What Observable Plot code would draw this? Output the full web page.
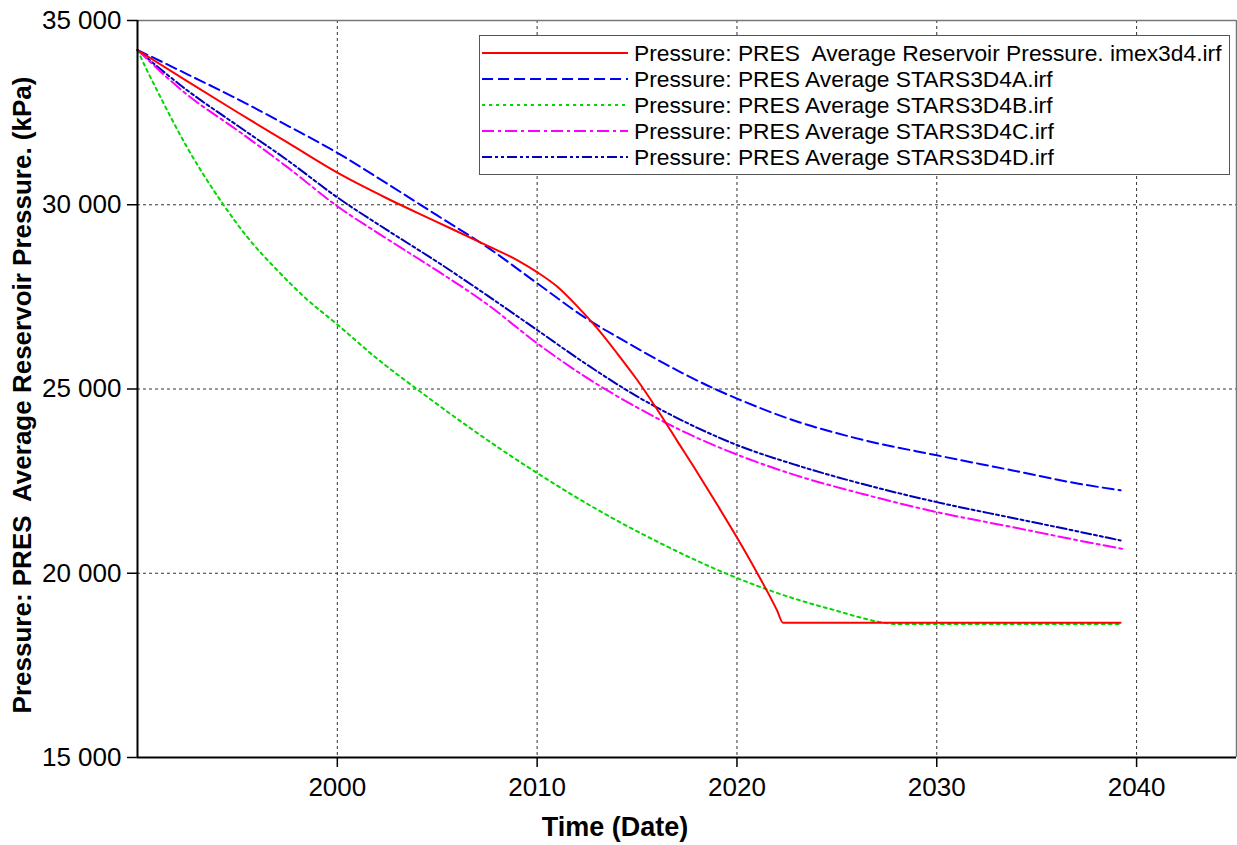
<!DOCTYPE html>
<html><head><meta charset="utf-8">
<script src="https://cdn.jsdelivr.net/npm/d3@7"></script>
<script src="https://cdn.jsdelivr.net/npm/@observablehq/plot@0.6"></script>
<style>
html,body{margin:0;padding:0;background:#fff;}
#wrap{position:relative;width:1237px;height:845px;font-family:"Liberation Sans",Arial,sans-serif;}
#legend{position:absolute;left:479px;top:35px;width:751px;height:140px;border:1.5px solid #555;background:#fff;box-sizing:border-box;}
.row{position:absolute;left:2px;height:26px;display:flex;align-items:center;font-size:22.8px;color:#000;white-space:pre;}
.row svg{margin-right:6px;}
</style></head><body><div id="wrap"></div>
<script>
// ---- data ----
const xTicks = [2000, 2010, 2020, 2030, 2040];
const yTicks = [15000, 20000, 25000, 30000, 35000];
const xDomain = [1990, 2045];
const yDomain = [15000, 35000];

const seriesNames = [
  "Pressure: PRES  Average Reservoir Pressure. imex3d4.irf",
  "Pressure: PRES Average STARS3D4A.irf",
  "Pressure: PRES Average STARS3D4B.irf",
  "Pressure: PRES Average STARS3D4C.irf",
  "Pressure: PRES Average STARS3D4D.irf"
];
const seriesColors = ["#ff0000", "#0000ff", "#00d800", "#ff00ff", "#0000b8"];
const seriesDash = [null, "11,5", "3,4", "12,4,3,4", "10,3,3,3,3,3"];

const imexYears  = [1990, 1992.5, 1995, 1997.5, 2000, 2002.5, 2005, 2007.5, 2009, 2010, 2011, 2012, 2013, 2014, 2015, 2016, 2017, 2018, 2019, 2020, 2021, 2022, 2022.3, 2039.2];
const imexValues = [34200, 33350, 32510, 31690, 30870, 30170, 29530, 28890, 28500, 28170, 27780, 27250, 26650, 25970, 25250, 24450, 23600, 22750, 21870, 20970, 20020, 19000, 18660, 18660];

const aYears  = [1990, 1992.5, 1995, 1997.5, 2000, 2002.5, 2005, 2007.5, 2010, 2012.5, 2014.6, 2017.1, 2018.9, 2020, 2023, 2026.3, 2030, 2033.8, 2037.1, 2039.2];
const aValues = [34200, 33540, 32870, 32150, 31410, 30570, 29710, 28850, 27870, 26900, 26230, 25480, 25000, 24740, 24120, 23620, 23200, 22790, 22430, 22250];

const bYears  = [1990, 1990.5, 1991, 1991.7, 1992.5, 1993.3, 1994.3, 1995.5, 1997, 1998.3, 2000, 2002, 2004, 2006.7, 2010, 2013, 2016.3, 2019.6, 2021.3, 2024.6, 2028.2, 2039.2];
const bValues = [34200, 33620, 33080, 32340, 31540, 30820, 30000, 29120, 28220, 27520, 26750, 25820, 24990, 23920, 22720, 21730, 20780, 19960, 19600, 19040, 18620, 18620];

const cYears  = [1990, 1992.5, 1995, 1997.5, 2000, 2002.5, 2005, 2007.5, 2010, 2012.5, 2015, 2017.5, 2020, 2023, 2026.3, 2030, 2033.8, 2037.1, 2039.3];
const cValues = [34200, 32980, 32020, 31020, 29960, 29070, 28210, 27300, 26240, 25300, 24500, 23800, 23220, 22650, 22150, 21660, 21250, 20890, 20660];

const dYears  = [1990, 1992.5, 1995, 1997.5, 2000, 2002.5, 2005, 2007.5, 2010, 2012.5, 2015, 2017.5, 2020, 2023, 2026.3, 2030, 2033.8, 2037.1, 2039.2];
const dValues = [34200, 33100, 32150, 31210, 30200, 29310, 28450, 27540, 26600, 25660, 24800, 24080, 23480, 22930, 22420, 21930, 21500, 21130, 20890];

const xTitle = "Time (Date)";
const yTitle = "Pressure: PRES  Average Reservoir Pressure. (kPa)";

// ---- build ----
const allYears = [imexYears, aYears, bYears, cYears, dYears];
const allValues = [imexValues, aValues, bValues, cValues, dValues];
const tables = allYears.map((ys, i) => ys.map((y, j) => ({year: y, value: allValues[i][j]})));

const fmtY = d => d3.format(",")(d).replace(/,/g, " ");
const FONT = "Liberation Sans, Arial, sans-serif";

const lineMarks = tables.map((t, i) => Plot.line(t, {
  x: "year", y: "value",
  stroke: seriesColors[i],
  strokeWidth: 2,
  strokeDasharray: seriesDash[i] || undefined,
  curve: "monotone-x"
}));

const chart = Plot.plot({
  width: 1237,
  height: 845,
  marginLeft: 137,
  marginRight: 1,
  marginTop: 20,
  marginBottom: 88,
  style: {fontFamily: FONT, background: "#fff", color: "#000", overflow: "visible"},
  x: {domain: xDomain, label: null},
  y: {domain: yDomain, label: null},
  marks: [
    Plot.gridX(xTicks, {stroke: "#333", strokeOpacity: 1, strokeDasharray: "3,3"}),
    Plot.gridY(yTicks, {stroke: "#333", strokeOpacity: 1, strokeDasharray: "3,3"}),
    Plot.ruleY([yDomain[1]], {stroke: "#777", strokeWidth: 1.5}),
    Plot.ruleX([xDomain[1]], {stroke: "#777", strokeWidth: 1.5}),
    ...lineMarks.slice().reverse(),
    Plot.ruleX([xDomain[0]], {stroke: "#000", strokeWidth: 2}),
    Plot.ruleY([yDomain[0]], {stroke: "#000", strokeWidth: 2}),
    Plot.axisY({ticks: yTicks, tickFormat: fmtY, tickSize: 10, tickPadding: 6, fontSize: 26, strokeWidth: 1.5, label: null, fill: "#000"}),
    Plot.axisX({ticks: xTicks, tickFormat: d => String(d), tickSize: 10, tickPadding: 10, fontSize: 26, strokeWidth: 1.5, label: null, fill: "#000"}),
    Plot.text([xTitle], {frameAnchor: "bottom", dy: 78, dx: -72, fontSize: 27, fontWeight: "bold", fill: "#000"}),
    Plot.text([yTitle], {frameAnchor: "left", textAnchor: "middle", rotate: -90, dx: -115, dy: 6, fontSize: 26, fontWeight: "bold", fill: "#000"})
  ]
});

const wrap = document.getElementById("wrap");
wrap.appendChild(chart);

// legend
const legend = document.createElement("div");
legend.id = "legend";
seriesNames.forEach((name, i) => {
  const row = document.createElement("div");
  row.className = "row";
  row.style.top = (4 + i * 26) + "px";
  const ns = "http://www.w3.org/2000/svg";
  const svg = document.createElementNS(ns, "svg");
  svg.setAttribute("width", 146); svg.setAttribute("height", 10);
  const ln = document.createElementNS(ns, "line");
  ln.setAttribute("x1", 0); ln.setAttribute("x2", 146);
  ln.setAttribute("y1", 5); ln.setAttribute("y2", 5);
  ln.setAttribute("stroke", seriesColors[i]);
  ln.setAttribute("stroke-width", 2);
  if (seriesDash[i]) ln.setAttribute("stroke-dasharray", seriesDash[i]);
  svg.appendChild(ln);
  row.appendChild(svg);
  const span = document.createElement("span");
  span.textContent = name;
  row.appendChild(span);
  legend.appendChild(row);
});
wrap.appendChild(legend);
</script></body></html>
